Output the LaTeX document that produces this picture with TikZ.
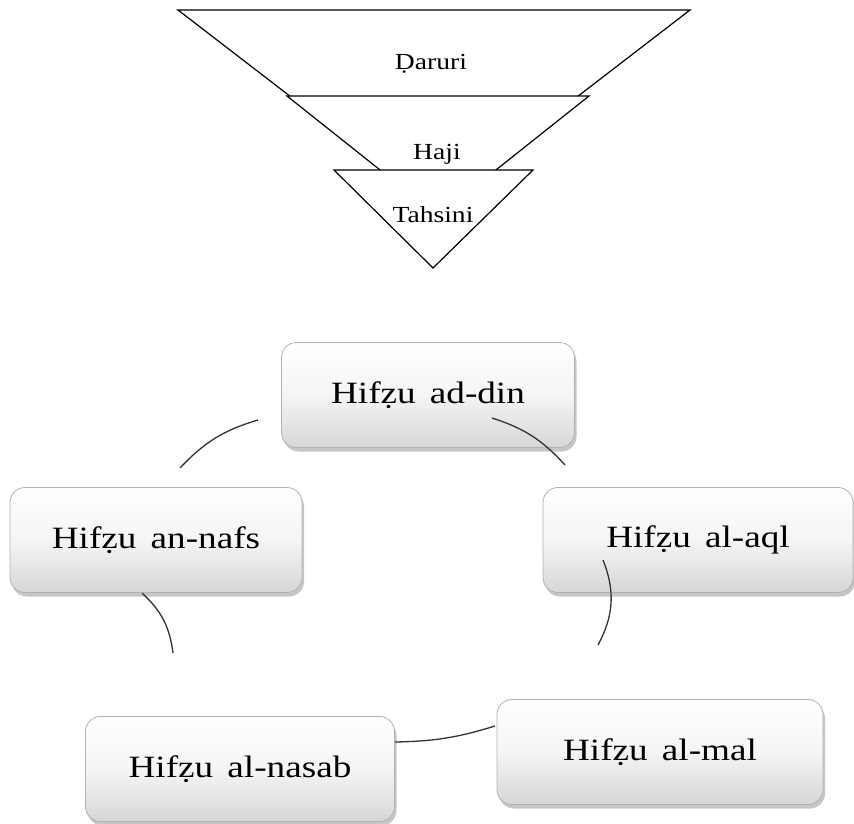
\documentclass[tikz,border=0pt]{standalone}
\usepackage{fontspec}
\setmainfont{Liberation Serif}
\usetikzlibrary{shadows}

\newcommand{\siroko}[1]{\scalebox{1.2}[1]{#1}}
\tikzset{
  polje/.style={rounded corners=15pt, draw=gray!60, line width=0.8pt,
    top color=white, bottom color=gray!32, middle color=gray!8, minimum height=105pt,
    drop shadow={shadow xshift=2pt, shadow yshift=-4pt, opacity=0.45},
    font=\fontsize{31}{34}\selectfont},
  napis/.style={font=\fontsize{23}{26}\selectfont},
  lok/.style={line width=1.3pt, black!80}
}

\begin{document}
\begin{tikzpicture}[x=1pt,y=-1pt]
\useasboundingbox (0,0) rectangle (854,824);

% trikotniki
\coordinate (t0) at (178,10);
\coordinate (t1) at (690,10);
\coordinate (t2) at (434,207);
\coordinate (s0) at (287,96);
\coordinate (s1) at (589,96);
\coordinate (s2) at (438,216);
\coordinate (m0) at (334,170);
\coordinate (m1) at (533,170);
\coordinate (m2) at (433,268);

\draw[line width=1.2pt, fill=white] (t0)--(t1)--(t2)--cycle;
\draw[line width=1.2pt, fill=white] (s0)--(s1)--(s2)--cycle;
\draw[line width=1.2pt, fill=white] (m0)--(m1)--(m2)--cycle;

\node[napis] (dar) at (431,64) {\siroko{Ḍaruri}};
\node[napis] (haj) at (437,154) {\siroko{Haji}};
\node[napis] (tah) at (433,215) {\siroko{Tahsini}};

% polja
\node[polje, minimum width=293pt] (din) at (428,395) {\siroko{Hifẓu\hspace{4pt} ad-din}};
\node[polje, minimum width=292pt] (nafs) at (156,540) {\siroko{Hifẓu\hspace{4pt} an-nafs}};
\node[polje, minimum width=310pt] (aql) at (698,540) {\siroko{Hifẓu\hspace{4pt} al-aql}};
\node[polje, minimum width=309pt] (nasab) at (240,769) {\siroko{Hifẓu\hspace{4pt} al-nasab}};
\node[polje, minimum width=326pt] (mal) at (660,752) {\siroko{Hifẓu\hspace{4pt} al-mal}};

% konci lokov
\coordinate (k1a) at (258,420);
\coordinate (k1b) at (180,468);
\coordinate (k2a) at (492,418);
\coordinate (k2b) at (565,465);
\coordinate (k3a) at (603,560);
\coordinate (k3b) at (598,645);
\coordinate (k4a) at (495,726);
\coordinate (k4b) at (395,742);
\coordinate (k5a) at (173,653);
\coordinate (k5b) at (142,593);

\draw[lok] (k1a) to[bend right=15] (k1b);
\draw[lok] (k2a) to[bend left=15] (k2b);
\draw[lok] (k3a) to[bend left=25] (k3b);
\draw[lok] (k4a) to[bend left=8] (k4b);
\draw[lok] (k5a) to[bend right=20] (k5b);
\end{tikzpicture}
\end{document}
